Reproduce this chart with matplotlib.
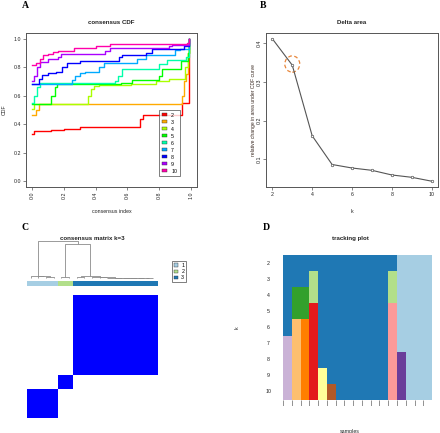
import matplotlib
matplotlib.use("Agg")
import matplotlib.pyplot as plt
import numpy as np
from matplotlib.patches import Patch, Ellipse
from matplotlib.colors import ListedColormap

plt.rcParams["font.family"] = ["Liberation Sans", "DejaVu Sans"]

W, H = 440, 433

# ---- A: consensus CDF (step curves)
cdf_k = [2, 3, 4, 5, 6, 7, 8, 9, 10]
cdf_colors = ["#FF0000", "#FFAA00", "#AAFF00", "#00FF00", "#00FFAA",
              "#00AAFF", "#0000FF", "#AA00FF", "#FF00AA"]
cdf_x_k2 = [0.00, 0.01, 0.12, 0.20, 0.30, 0.68, 0.70, 0.945, 0.99]
cdf_y_k2 = [0.333, 0.350, 0.358, 0.368, 0.383, 0.440, 0.462, 0.550, 1.0]
cdf_x_k3 = [0.00, 0.02, 0.04, 0.945, 0.955, 0.97, 0.985, 0.99]
cdf_y_k3 = [0.462, 0.50, 0.545, 0.60, 0.70, 0.75, 0.90, 1.0]
cdf_x_k4 = [0.00, 0.01, 0.35, 0.37, 0.39, 0.42, 0.62, 0.78, 0.86, 0.965, 0.98, 0.99]
cdf_y_k4 = [0.505, 0.545, 0.60, 0.645, 0.668, 0.678, 0.685, 0.70, 0.72, 0.80, 0.90, 1.0]
cdf_x_k5 = [0.00, 0.12, 0.14, 0.155, 0.56, 0.63, 0.80, 0.82, 0.94, 0.98, 0.99]
cdf_y_k5 = [0.545, 0.60, 0.66, 0.685, 0.69, 0.71, 0.74, 0.785, 0.845, 0.90, 1.0]
cdf_x_k6 = [0.00, 0.01, 0.03, 0.05, 0.52, 0.54, 0.565, 0.75, 0.80, 0.85, 0.97, 0.99]
cdf_y_k6 = [0.55, 0.60, 0.66, 0.69, 0.70, 0.74, 0.785, 0.79, 0.82, 0.848, 0.87, 1.0]
cdf_x_k7 = [0.00, 0.25, 0.27, 0.30, 0.33, 0.42, 0.45, 0.66, 0.72, 0.90, 0.93, 0.99]
cdf_y_k7 = [0.685, 0.71, 0.735, 0.76, 0.77, 0.80, 0.83, 0.856, 0.887, 0.92, 0.93, 1.0]
cdf_x_k8 = [0.00, 0.04, 0.06, 0.10, 0.15, 0.19, 0.22, 0.30, 0.545, 0.565, 0.72, 0.755, 0.955, 0.99]
cdf_y_k8 = [0.685, 0.72, 0.745, 0.76, 0.77, 0.80, 0.83, 0.846, 0.875, 0.887, 0.90, 0.927, 0.95, 1.0]
cdf_x_k9 = [0.00, 0.01, 0.03, 0.05, 0.10, 0.16, 0.18, 0.46, 0.49, 0.86, 0.88, 0.99]
cdf_y_k9 = [0.70, 0.74, 0.80, 0.84, 0.856, 0.875, 0.894, 0.915, 0.934, 0.95, 0.955, 1.0]
cdf_x_k10 = [0.00, 0.02, 0.05, 0.07, 0.10, 0.13, 0.165, 0.26, 0.40, 0.49, 0.975, 0.99]
cdf_y_k10 = [0.816, 0.83, 0.86, 0.887, 0.894, 0.91, 0.917, 0.934, 0.946, 0.962, 0.97, 1.0]

# ---- B: delta area
delta_k = [2, 3, 4, 5, 6, 7, 8, 9, 10]
delta_area = [0.411, 0.343, 0.161, 0.087, 0.078, 0.072, 0.060, 0.054, 0.044]

# ---- C: consensus matrix k=3
k3_labels = [1, 1, 1, 1, 2, 2, 3, 3, 3, 3, 3, 3, 3, 3, 3, 3, 3]
cluster_colors = ["#A6CEE3", "#B2DF8A", "#1F78B4"]
# (left node, right node, height); leaves are 0..16, merges numbered from 17
dendro_merges = [(2, 3, 0.02), (1, 17, 0.04), (0, 18, 0.06),
                 (4, 5, 0.02),
                 (15, 16, 0.0), (14, 21, 0.0), (13, 22, 0.0), (12, 23, 0.0),
                 (11, 24, 0.01), (10, 25, 0.01), (9, 26, 0.02), (8, 27, 0.03),
                 (6, 7, 0.02), (29, 28, 0.05),
                 (20, 30, 0.93), (19, 31, 1.0)]

# ---- D: tracking plot (colour index per sample, rows k=2..10)
track_k = [2, 3, 4, 5, 6, 7, 8, 9, 10]
track_palette = ["#1F78B4", "#A6CEE3", "#B2DF8A", "#33A02C", "#FB9A99", "#E31A1C",
                 "#FDBF6F", "#FF7F00", "#CAB2D6", "#6A3D9A", "#FFFF99", "#B15928"]
track_k2 = [0, 0, 0, 0, 0, 0, 0, 0, 0, 0, 0, 0, 0, 1, 1, 1, 1]
track_k3 = [0, 0, 0, 2, 0, 0, 0, 0, 0, 0, 0, 0, 2, 1, 1, 1, 1]
track_k4 = [0, 3, 3, 2, 0, 0, 0, 0, 0, 0, 0, 0, 2, 1, 1, 1, 1]
track_k5 = [0, 3, 3, 5, 0, 0, 0, 0, 0, 0, 0, 0, 4, 1, 1, 1, 1]
track_k6 = [0, 6, 7, 5, 0, 0, 0, 0, 0, 0, 0, 0, 4, 1, 1, 1, 1]
track_k7 = [8, 6, 7, 5, 0, 0, 0, 0, 0, 0, 0, 0, 4, 1, 1, 1, 1]
track_k8 = [8, 6, 7, 5, 0, 0, 0, 0, 0, 0, 0, 0, 4, 9, 1, 1, 1]
track_k9 = [8, 6, 7, 5, 10, 0, 0, 0, 0, 0, 0, 0, 4, 9, 1, 1, 1]
track_k10 = [8, 6, 7, 5, 10, 11, 0, 0, 0, 0, 0, 0, 4, 9, 1, 1, 1]

FS = 3.8
TXT = "#222222"
EDGE = "#555555"


def px_axes(fig, left, top, right, bottom):
    return fig.add_axes([left / W, 1 - bottom / H, (right - left) / W, (bottom - top) / H])


def style_box(ax):
    for s in ax.spines.values():
        s.set_color(EDGE)
        s.set_linewidth(0.7)
    ax.tick_params(length=2.2, width=0.5, color=EDGE, labelsize=FS, labelcolor=TXT, pad=1.2)


fig = plt.figure(figsize=(W / 100, H / 100), dpi=100)
letter_kw = dict(fontsize=7, fontweight="bold", family=["Liberation Serif", "DejaVu Serif"],
                 ha="center", va="center")

# ---------------- A
ax = px_axes(fig, 26, 33, 197, 187)
cdf_xs = [cdf_x_k2, cdf_x_k3, cdf_x_k4, cdf_x_k5, cdf_x_k6, cdf_x_k7, cdf_x_k8, cdf_x_k9, cdf_x_k10]
cdf_ys = [cdf_y_k2, cdf_y_k3, cdf_y_k4, cdf_y_k5, cdf_y_k6, cdf_y_k7, cdf_y_k8, cdf_y_k9, cdf_y_k10]
for xs, ys, c in zip(cdf_xs, cdf_ys, cdf_colors):
    ax.plot(xs, ys, drawstyle="steps-post", color=c, lw=1.0)
ax.set_xlim(-0.04, 1.04)
ax.set_ylim(-0.04, 1.04)
ax.set_xticks(np.arange(0, 1.01, 0.2))
ax.set_yticks(np.arange(0, 1.01, 0.2))
ax.set_xticklabels(["%.1f" % v for v in np.arange(0, 1.01, 0.2)], rotation=90)
ax.set_yticklabels(["%.1f" % v for v in np.arange(0, 1.01, 0.2)])
style_box(ax)
ax.text(0.5, 1.071, "consensus CDF", transform=ax.transAxes, ha="center", va="center",
        fontsize=4.4, fontweight="bold", color=TXT)
ax.set_xlabel("consensus index", fontsize=FS, color=TXT)
ax.xaxis.set_label_coords(0.5, -0.143)
ax.set_ylabel("CDF", fontsize=FS, color=TXT)
ax.yaxis.set_label_coords(-0.115, 0.5)
handles = [Patch(facecolor=c, edgecolor="#333333", lw=0.3) for c in cdf_colors]
leg = ax.legend(handles, [str(k) for k in cdf_k], loc="upper left",
                bbox_to_anchor=(0.8, 0.5), bbox_transform=ax.transData,
                fontsize=FS, frameon=True, fancybox=False, handlelength=1.0,
                handleheight=0.6, labelspacing=0.38, borderpad=0.5, handletextpad=0.8,
                borderaxespad=0)
leg.get_frame().set_edgecolor("#444444")
leg.get_frame().set_linewidth(0.6)
fig.text(25 / W, 1 - 5 / H, "A", **letter_kw)

# ---------------- B
ax = px_axes(fig, 266, 33, 438, 187)
ax.plot(delta_k, delta_area, "-", color="#555555", lw=0.8, marker="o", ms=1.8,
        mfc="white", mec="#555555", mew=0.5)
ax.add_patch(Ellipse((delta_k[1], delta_area[1] + 0.003), 0.75, 0.042, fill=False,
                     edgecolor="#E8863A", lw=0.9, ls=(0, (3, 2))))
ax.set_xlim(1.68, 10.32)
ax.set_ylim(0.029, 0.426)
ax.set_xticks([2, 4, 6, 8, 10])
ax.set_yticks([0.1, 0.2, 0.3, 0.4])
ax.set_yticklabels(["0.1", "0.2", "0.3", "0.4"], rotation=90, va="center")
style_box(ax)
ax.text(0.5, 1.071, "Delta area", transform=ax.transAxes, ha="center", va="center",
        fontsize=4.4, fontweight="bold", color=TXT)
ax.set_xlabel("k", fontsize=FS, color=TXT)
ax.xaxis.set_label_coords(0.5, -0.143)
ax.set_ylabel("relative change in area under CDF curve", fontsize=3.6, color="#3a2a22")
ax.yaxis.set_label_coords(-0.06, 0.5)
fig.text(263 / W, 1 - 5 / H, "B", **letter_kw)

# ---------------- C
n = len(k3_labels)
axd = px_axes(fig, 27, 240, 157, 279)
pos = {i: i + 0.5 for i in range(n)}
hgt = {i: 0.0 for i in range(n)}
for j, (a, b, h) in enumerate(dendro_merges):
    node = n + j
    axd.plot([pos[a], pos[a], pos[b], pos[b]], [hgt[a], h, h, hgt[b]],
             color="#8a8a8a", lw=0.6, solid_capstyle="butt")
    pos[node] = (pos[a] + pos[b]) / 2
    hgt[node] = h
axd.set_xlim(0, n)
axd.set_ylim(-0.03, 1.03)
axd.axis("off")

axb = px_axes(fig, 27, 281, 157, 286)
axb.imshow(np.array(k3_labels)[None, :], cmap=ListedColormap(cluster_colors), vmin=0.5, vmax=3.5,
           aspect="auto", extent=(0, n, 0, 1), interpolation="nearest")
axb.axis("off")

axh = px_axes(fig, 27, 295, 157, 418)
lab = np.array(k3_labels)
cmat = (lab[:, None] == lab[None, :]).astype(float)
axh.imshow(cmat, cmap=ListedColormap(["white", "#0000FF"]), origin="lower", aspect="auto",
           extent=(0, n, 0, n), interpolation="nearest", vmin=0, vmax=1)
axh.axis("off")
fig.text(92 / W, 1 - 238 / H, "consensus matrix k=3", ha="center", va="center",
         fontsize=4.4, fontweight="bold", color=TXT)
handles = [Patch(facecolor=c, edgecolor="#333333", lw=0.3) for c in cluster_colors]
leg = fig.legend(handles, ["1", "2", "3"], loc="upper left",
                 bbox_to_anchor=(172 / W, 1 - 261 / H), fontsize=FS, frameon=True,
                 fancybox=False, handlelength=0.8, handleheight=0.6, labelspacing=0.25,
                 borderpad=0.35, handletextpad=0.6, borderaxespad=0)
leg.get_frame().set_edgecolor("#444444")
leg.get_frame().set_linewidth(0.6)
fig.text(25 / W, 1 - 228 / H, "C", **letter_kw)

# ---------------- D
ax = px_axes(fig, 261.5, 249.2, 438.6, 405.8)
track = np.array([track_k2, track_k3, track_k4, track_k5, track_k6,
                  track_k7, track_k8, track_k9, track_k10])
nr, nc = track.shape
xe = np.linspace(0, 1, nc + 1)
ye = np.linspace(1, 0, nr + 1)
ax.pcolormesh(xe, ye, track, cmap=ListedColormap(track_palette), vmin=-0.5,
              vmax=len(track_palette) - 0.5, shading="flat", edgecolors="none",
              antialiased=False)
ax.vlines(xe[:-1], -0.04, 0, color="#666666", lw=0.5)
for i, k in enumerate(track_k):
    ax.text(-0.1, (ye[i] + ye[i + 1]) / 2, str(k), ha="center", va="center",
            fontsize=FS, color=TXT)
ax.set_xlim(-0.144, 1.044)
ax.set_ylim(-0.04, 1.04)
for s in ax.spines.values():
    s.set_visible(False)
ax.set_xticks([])
ax.set_yticks([])
ax.text(0.5, 1.071, "tracking plot", transform=ax.transAxes, ha="center", va="center",
        fontsize=4.4, fontweight="bold", color=TXT)
ax.set_xlabel("samples", fontsize=FS, color=TXT)
ax.xaxis.set_label_coords(0.5, -0.148)
ax.set_ylabel("k", fontsize=FS, color=TXT)
ax.yaxis.set_label_coords(-0.121, 0.5)
fig.text(266 / W, 1 - 228 / H, "D", **letter_kw)

fig.savefig("out.png", dpi=100)
